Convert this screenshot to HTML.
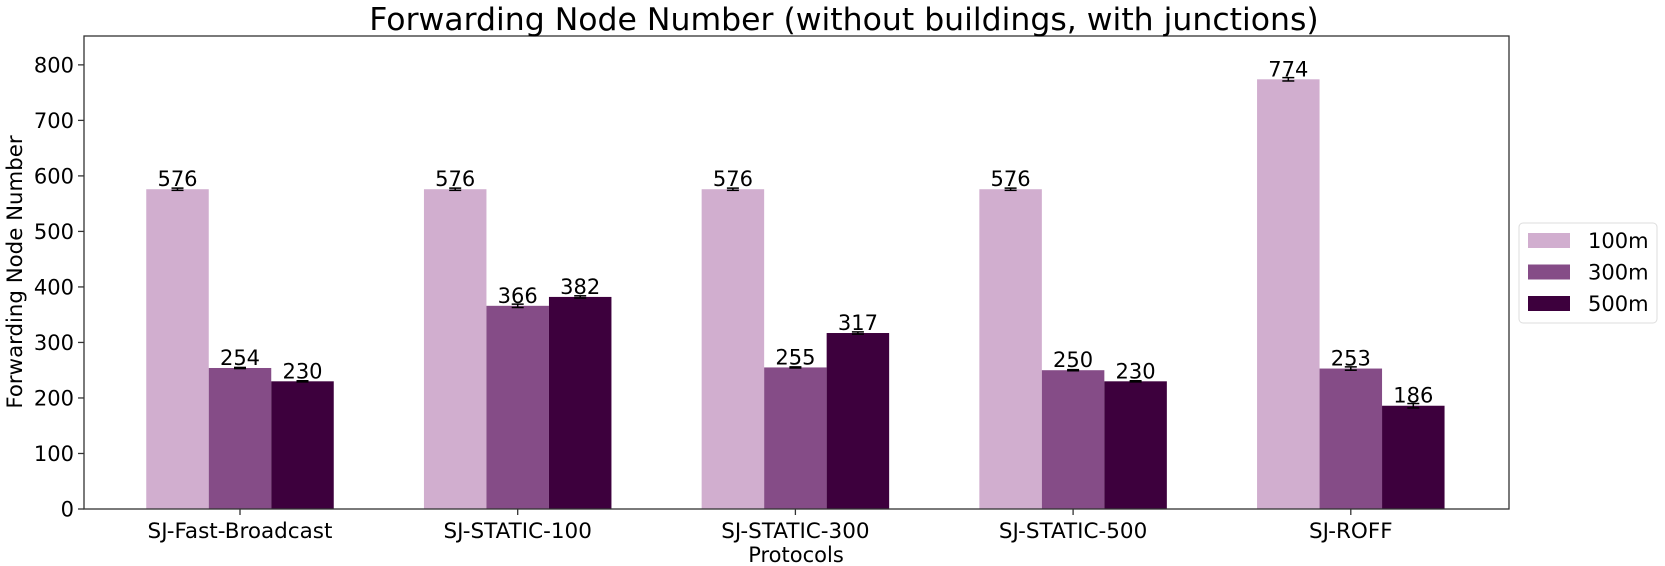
<!DOCTYPE html>
<html><head><meta charset="utf-8"><style>
body{margin:0;background:#fff;}
svg{display:block;font-family:"DejaVu Sans","Liberation Sans",sans-serif;}
</style></head><body>
<svg id="c" width="1665" height="566"></svg>
<script>
const categories=["SJ-Fast-Broadcast","SJ-STATIC-100","SJ-STATIC-300","SJ-STATIC-500","SJ-ROFF"];
const seriesNames=["100m","300m","500m"];
const s100=[576,576,576,576,774];
const s300=[254,366,255,250,253];
const s500=[230,382,317,230,186];
const err100=[2,2,2,2,3];
const err300=[1,3,1,1,3];
const err500=[1,2,2,1,4];
const yTicks=[0,100,200,300,400,500,600,700,800];
const colors=["#d1aecf","#854c87","#3d003d"];
const NS="http://www.w3.org/2000/svg";
const svg=document.getElementById('c');
const L=84,R=1509,T=36,B=509,YMAX=852;
const y=v=>B-(v/YMAX)*(B-T);
const x=i=>240+277.7*i;
const bw=62.5;
function el(t,a,p){const e=document.createElementNS(NS,t);for(const k in a)e.setAttribute(k,a[k]);(p||svg).appendChild(e);return e;}
const series=[s100,s300,s500],errs=[err100,err300,err500];
series.forEach((s,si)=>{s.forEach((v,i)=>{
 const cx=x(i)+(si-1)*bw;
 const r=el('rect',{x:cx-bw/2,y:y(v),width:bw,height:B-y(v),fill:colors[si]});
 
 
 const e=errs[si][i];
 const g=el('g',{stroke:'#000','stroke-width':1.5});
 
 
 el('line',{x1:cx,x2:cx,y1:y(v+e),y2:y(v-e)},g);
 el('line',{x1:cx-6,x2:cx+6,y1:y(v+e),y2:y(v+e)},g);
 el('line',{x1:cx-6,x2:cx+6,y1:y(v-e),y2:y(v-e)},g);
 const t=el('text',{x:cx,y:y(v)-3,'text-anchor':'middle','font-size':21});
 t.textContent=v;
 
 
});});
const fr=el('rect',{x:L,y:T,width:R-L,height:B-T,fill:'none',stroke:'#333','stroke-width':1.3});


yTicks.forEach(v=>{
 el('line',{x1:L-6,x2:L,y1:y(v),y2:y(v),stroke:'#333','stroke-width':1.3});
 const t=el('text',{x:L-10,y:y(v)+7.5,'text-anchor':'end','font-size':21});
 t.textContent=v;
 
 
});
categories.forEach((c,i)=>{
 el('line',{x1:x(i),x2:x(i),y1:B,y2:B+6,stroke:'#333','stroke-width':1.3});
 const t=el('text',{x:x(i),y:B+29,'text-anchor':'middle','font-size':21.5});
 t.textContent=c;
 
 
});
let t=el('text',{x:844,y:30,'text-anchor':'middle','font-size':31.5});
t.textContent="Forwarding Node Number (without buildings, with junctions)";


t=el('text',{x:796,y:562,'text-anchor':'middle','font-size':21});
t.textContent="Protocols";


t=el('text',{x:0,y:0,'text-anchor':'middle','font-size':21.3,transform:'translate(22,272) rotate(-90)'});
t.textContent="Forwarding Node Number";


const lg=el('g',{});


el('rect',{x:1519,y:223,width:138,height:100,rx:4,fill:'#fff',stroke:'#ddd','stroke-width':1},lg);
seriesNames.forEach((n,i)=>{
 const yy=233+i*31.5;
 el('rect',{x:1528,y:yy,width:42,height:15,fill:colors[i]},lg);
 const tt=el('text',{x:1588,y:yy+15,'font-size':21},lg);
 tt.textContent=n;
 
 
});
</script>
</body></html>
